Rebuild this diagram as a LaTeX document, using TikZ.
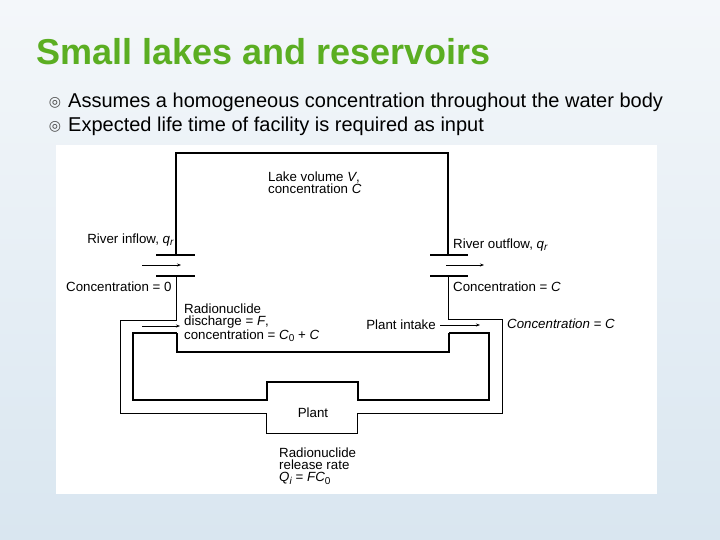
\documentclass[tikz,border=0pt]{standalone}
\usepackage{fontspec}
\setmainfont{Liberation Sans}
\newfontfamily\dejavu{DejaVu Sans}
\usetikzlibrary{arrows.meta}
\definecolor{titlegreen}{HTML}{5BAE22}
\definecolor{bgtop}{HTML}{F4F7FA}
\definecolor{bgbot}{HTML}{D9E6F0}
\newcommand{\lsub}[1]{\raisebox{-0.35ex}{\fontsize{10}{10}\selectfont #1}}
\begin{document}
\begin{tikzpicture}[x=1pt,y=-1pt,
  thick wall/.style={line width=2.2pt},
  thin wall/.style={line width=1pt},
  flow/.style={line width=0.8pt,-{Stealth[length=4pt,width=3pt]}},
  lbl/.style={font=\fontsize{13.3}{12}\selectfont,inner sep=0pt,align=left}]
\useasboundingbox (0,0) rectangle (720,540);
\shade[top color=bgtop,bottom color=bgbot] (0,0) rectangle (720,540);
\fill[white] (56,145) rectangle (657,494);
\node[anchor=west,text=titlegreen,font=\fontsize{36}{38}\selectfont\bfseries,inner sep=0pt] (title) at (36,52) {Small lakes and reservoirs};
\node[anchor=center,font=\fontsize{14}{14}\dejavu,text=black!70,inner sep=0pt] (b1) at (55,103) {◎};
\node[anchor=center,font=\fontsize{14}{14}\dejavu,text=black!70,inner sep=0pt] (b2) at (55,127) {◎};
\node[anchor=west,font=\fontsize{20}{22}\selectfont,inner sep=0pt] (t1) at (68,102) {Assumes a homogeneous concentration throughout the water body};
\node[anchor=west,font=\fontsize{20}{22}\selectfont,inner sep=0pt] (t2) at (68,126) {Expected life time of facility is required as input};
% lake
\draw[thick wall] (176,255) -- (176,153) -- (448,153) -- (448,255);
\draw[thick wall] (156,255) -- (195,255) (156,276) -- (195,276);
\draw[thick wall] (430,255) -- (468,255) (430,276) -- (468,276);
\coordinate (ia) at (142,265); \coordinate (ib) at (181,265);
\coordinate (oa) at (446,265); \coordinate (ob) at (484,265);
\draw[flow] (ia) -- (ib);
\draw[flow] (oa) -- (ob);
% outer pipe
\draw[thin wall] (176,276) -- (176,320) -- (120,320) -- (120,413) -- (266,413) -- (266,433) -- (357,433) -- (357,413) -- (502,413) -- (502,319) -- (448,319) -- (448,276);
% inner thick
\draw[thick wall] (177,333) -- (133,333) -- (133,400) -- (267,400) -- (267,382) -- (358,382) -- (358,400) -- (489,400) -- (489,333) -- (449,333);
\draw[line width=1.5pt] (177,333) -- (177,352) -- (449,352) -- (449,333);
\coordinate (da) at (142,326); \coordinate (db) at (180,326);
\coordinate (pa) at (440,325); \coordinate (pb) at (480,325);
\draw[flow] (da) -- (db);
\draw[flow] (pa) -- (pb);
% labels
\node[lbl,anchor=north west] (lake) at (268,172) {Lake volume \textit{V},\\concentration \textit{C}};
\node[lbl,anchor=east] (rin) at (174,240) {River inflow, \textit{q}\lsub{\textit{r}}};
\node[lbl,anchor=west] (c0) at (66,287) {Concentration = 0};
\node[lbl,anchor=west] (rout) at (453,245) {River outflow, \textit{q}\lsub{\textit{r}}};
\node[lbl,anchor=west] (cc) at (453,287) {Concentration = \textit{C}};
\node[lbl,anchor=north west] (dis) at (184,304) {Radionuclide\\discharge = \textit{F},\\concentration = \textit{C}\lsub{0} + \textit{C}};
\node[lbl,anchor=east] (pi) at (436,325) {Plant intake};
\node[lbl,anchor=west] (ci) at (507,324) {\textit{Concentration = C}};
\node[lbl] (plant) at (313,413) {Plant};
\node[lbl,anchor=north west] (rel) at (279,448) {Radionuclide\\release rate\\\textit{Q}\lsub{\textit{i}} = \textit{FC}\lsub{0}};
\end{tikzpicture}
\end{document}
